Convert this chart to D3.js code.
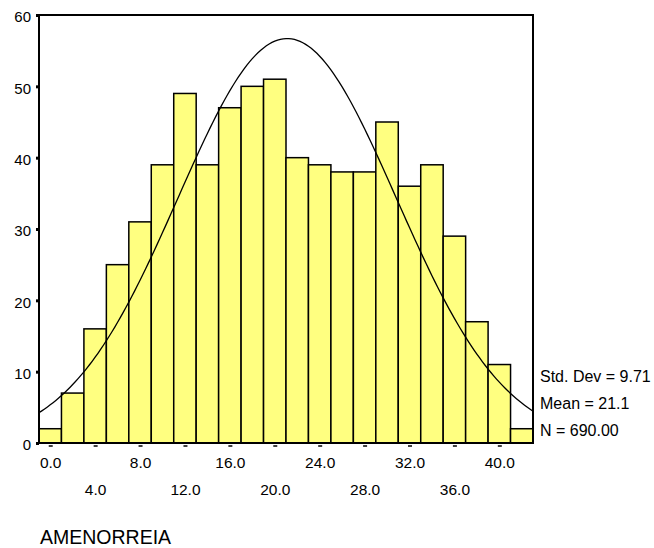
<!DOCTYPE html>
<html>
<head>
<meta charset="utf-8">
<script src="https://cdn.jsdelivr.net/npm/d3@7"></script>
<style>
  html, body { margin: 0; padding: 0; background: #fff; }
  svg { display: block; font-family: "Liberation Sans", Arial, sans-serif; }
</style>
</head>
<body>
<svg id="chart" width="654" height="548"></svg>
<script>
// ---- data ----
const binCenters = [0, 2, 4, 6, 8, 10, 12, 14, 16, 18, 20, 22, 24, 26, 28, 30, 32, 34, 36, 38, 40, 42];
const counts     = [2, 7, 16, 25, 31, 39, 49, 39, 47, 50, 51, 40, 39, 38, 38, 45, 36, 39, 29, 17, 11, 2];
const binWidth = 2;
const xTickValues = [0, 4, 8, 12, 16, 20, 24, 28, 32, 36, 40];
const yTickValues = [0, 10, 20, 30, 40, 50, 60];
const statLabels = ["Std. Dev = 9.71", "Mean = 21.1", "N = 690.00"];
const statMean = 21.1, statSd = 9.71, statN = 690;
const axisTitle = "AMENORREIA";

// ---- layout ----
const svg = d3.select("#chart");
const plotL = 39, plotR = 533, plotT = 15, plotB = 443;

const x = d3.scaleLinear().domain([-1, 43]).range([plotL, plotR]);
const y = d3.scaleLinear().domain([0, 60]).range([plotB, plotT]);

// bars
svg.append("g").selectAll("rect").data(binCenters).join("rect")
  .attr("x", (d) => x(d - binWidth / 2))
  .attr("width", (d) => x(d + binWidth / 2) - x(d - binWidth / 2))
  .attr("y", (d, i) => y(counts[i]))
  .attr("height", (d, i) => y(0) - y(counts[i]))
  .attr("fill", "#ffff80")
  .attr("stroke", "#000")
  .attr("stroke-width", 1.5);

// normal curve from displayed statistics
const curveX = d3.range(-1, 43.001, 0.25);
const normal = (v) => statN * binWidth / (statSd * Math.sqrt(2 * Math.PI)) *
  Math.exp(-0.5 * Math.pow((v - statMean) / statSd, 2));
svg.append("path")
  .datum(curveX)
  .attr("fill", "none")
  .attr("stroke", "#000")
  .attr("stroke-width", 1.3)
  .attr("d", d3.line().x((d) => x(d)).y((d) => y(normal(d))));

// frame
svg.append("rect")
  .attr("x", plotL).attr("y", plotT)
  .attr("width", plotR - plotL).attr("height", plotB - plotT)
  .attr("fill", "none").attr("stroke", "#000").attr("stroke-width", 2);

// y axis ticks (small marks) and labels
const yAxis = d3.axisLeft(y).tickValues(yTickValues).tickSize(3).tickFormat(d3.format("d"));
const gy = svg.append("g").attr("transform", `translate(${plotL},0)`).call(yAxis);
gy.select(".domain").remove();
gy.selectAll(".tick line").attr("stroke", "#000").attr("stroke-width", 3);
gy.selectAll(".tick text")
  .attr("x", -8).attr("dy", "0.45em")
  .attr("font-size", 15).attr("fill", "#000")
  .style("font-family", "'Liberation Sans', Arial, sans-serif");

// x axis ticks (small dashes) and labels in two rows
const xAxis = d3.axisBottom(x).tickValues(xTickValues).tickSize(0).tickFormat(d3.format(".1f"));
const gx = svg.append("g").attr("transform", `translate(0,${plotB})`).call(xAxis);
gx.select(".domain").remove();
gx.selectAll(".tick").append("line")
  .attr("x1", -2).attr("x2", 2).attr("y1", 3).attr("y2", 3)
  .attr("stroke", "#000").attr("stroke-width", 1.5);
gx.selectAll(".tick text")
  .attr("y", (d, i) => i % 2 === 0 ? 25 : 52)
  .attr("dy", null)
  .attr("font-size", 15.5).attr("fill", "#000")
  .style("font-family", "'Liberation Sans', Arial, sans-serif");

// stats text
svg.append("g").selectAll("text").data(statLabels).join("text")
  .attr("x", 540)
  .attr("y", (d, i) => 382 + i * 27)
  .attr("font-size", 16)
  .attr("fill", "#000")
  .text((d) => d);

// axis title
svg.append("text")
  .attr("x", 40).attr("y", 544)
  .attr("font-size", 19.5)
  .attr("fill", "#000")
  .text(axisTitle);
</script>
</body>
</html>
